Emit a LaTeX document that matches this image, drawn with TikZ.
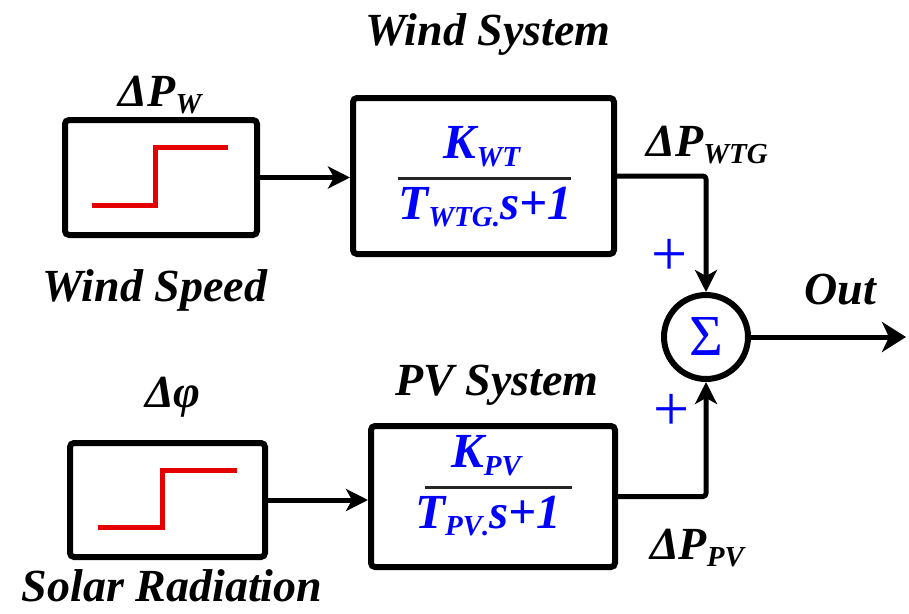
\documentclass[tikz,border=0pt]{standalone}
\usepackage{fontspec}
\setmainfont{Liberation Serif}
\usetikzlibrary{arrows.meta}
\newcommand\lowsub[1]{\raisebox{-0.35ex}{\fontsize{29}{29}\selectfont #1}}
\tikzset{
  lbl/.style={font=\fontsize{46}{46}\selectfont\bfseries\itshape, text=black, inner sep=0pt},
  blu/.style={font=\fontsize{49}{49}\selectfont\bfseries\itshape, text=blue, inner sep=0pt},
  stepbox/.style={draw=black, line width=6pt, rounded corners=4pt, inner sep=0pt},
  redstep/.style={draw=red!90!black, line width=5pt},
  fracline/.style={draw=black!85, line width=3pt},
  arr/.style={draw=black, line width=5pt, line join=round, rounded corners=3pt,
    -{Stealth[length=22pt,width=22pt,inset=6pt]}},
  sumc/.style={draw=black, circle, line width=6pt, minimum size=84pt, inner sep=0pt},
  plus/.style={font=\fontsize{64}{64}\selectfont, text=blue, inner sep=0pt}
}
\begin{document}
\begin{tikzpicture}[x=1pt,y=-1pt]
\useasboundingbox (0,0) rectangle (909,613);
% blocks
\node[stepbox, minimum width=192pt, minimum height=115pt] (s1) at (161,177.5) {};
\node[stepbox, minimum width=195pt, minimum height=114pt] (s2) at (167.5,500) {};
\node[stepbox, minimum width=261pt, minimum height=156pt] (w) at (483.5,176) {};
\node[stepbox, minimum width=244pt, minimum height=141pt] (p) at (493,496.5) {};
\node[sumc] (c) at (706,337) {};
\node[font=\fontsize{58}{58}\selectfont, text=blue, inner sep=0pt] (sig) at (c.center) {Σ};
% step signals
\draw[redstep, shift={(s1.center)}] (-69,27.5) -- (-6,27.5) -- (-6,-30.5) -- (67,-30.5);
\draw[redstep, shift={(s2.center)}] (-70,27) -- (-5.5,27) -- (-5.5,-30) -- (69,-30);
% fractions
\draw[fracline, shift={(w.center)}] (-86,2) -- (87,2);
\node[blu] (kwt) at (482,147) {K\lowsub{WT}};
\node[blu] (twt) at (485,207) {T\lowsub{WTG}\lowsub{.}s+1};
\draw[fracline, shift={(p.center)}] (-68,-9.5) -- (79,-9.5);
\node[blu] (kpv) at (486,456) {K\lowsub{PV}};
\node[blu] (tpv) at (488,516) {T\lowsub{PV}\lowsub{.}s+1};
% labels
\node[lbl] (dpw) at (160,95) {ΔP\lowsub{W}};
\node[lbl] (ws) at (155,290) {Wind Speed};
\node[lbl] (wsys) at (488,35) {Wind System};
\node[lbl] (dpwtg) at (707,145) {ΔP\lowsub{WTG}};
\node[lbl] (dphi) at (173,397) {Δφ};
\node[lbl] (pvs) at (497,385) {PV System};
\node[lbl] (dppv) at (697,548) {ΔP\lowsub{PV}};
\node[lbl] (sr) at (172,586) {Solar Radiation};
\node[lbl] (outl) at (840,290) {Out};
\node[plus] (p1) at (670,257) {+};
\node[plus] (p2) at (672,412) {+};
% connectors
\coordinate (o) at (906,337);
\draw[arr] (s1.east) -- (s1.east -| w.west);
\draw[arr] (s2.east) -- (s2.east -| p.west);
\draw[arr] (w.east) -| (c.north);
\draw[arr] (p.east) -| (c.south);
\draw[arr, -{Stealth[length=24pt,width=30pt,inset=7pt]}] (c.east) -- (o);
\end{tikzpicture}
\end{document}
